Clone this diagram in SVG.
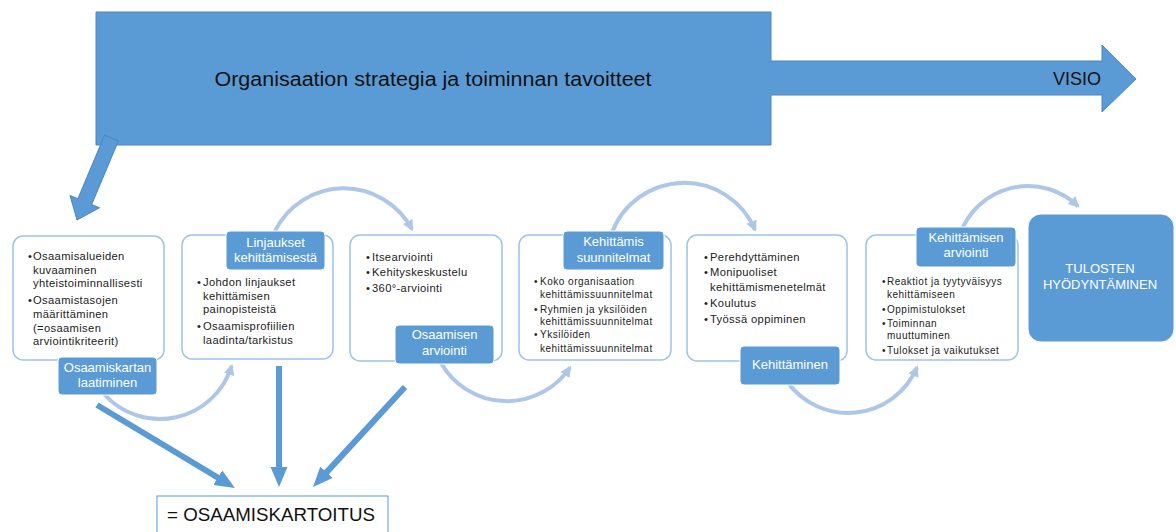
<svg xmlns="http://www.w3.org/2000/svg" width="1176" height="532" viewBox="0 0 1176 532">
<style>
.box{fill:#fff;stroke:#9dc3e6;stroke-width:1.5}
.lab{fill:#5b9bd5;stroke:#fff;stroke-width:1}
.lt{font-family:"Liberation Sans",Arial,sans-serif;font-size:13px;fill:#fff;text-anchor:middle}
.bt{font-family:"Liberation Sans",Arial,sans-serif;font-size:11.2px;fill:#222;letter-spacing:0.35px}
.st{font-family:"Liberation Sans",Arial,sans-serif;font-size:10px;fill:#222;letter-spacing:0.5px}
.arc{fill:none;stroke:#aec6e8;stroke-width:4}
.sa{fill:none;stroke:#5b9bd5;stroke-width:6}
</style>
<defs>
<marker id="ah" markerUnits="userSpaceOnUse" markerWidth="12" markerHeight="12" refX="9" refY="5.5" orient="auto">
<path d="M0,0 L11,5.5 L0,11 z" fill="#aec6e8"/>
</marker>
<marker id="bh" markerUnits="userSpaceOnUse" markerWidth="22" markerHeight="18" refX="10" refY="8.5" orient="auto">
<path d="M0,0 L20,8.5 L0,17 z" fill="#5b9bd5"/>
</marker>
</defs>
<g id="strategy">
<polygon points="96,12 771,12 771,61 1102,61 1102,45 1136,79 1102,112 1102,95 771,95 771,145 96,145" fill="#5b9bd5" stroke="#4a86c0" stroke-width="1"/>
<text x="433" y="86" font-family="Liberation Sans,Arial,sans-serif" font-size="20" fill="#111" text-anchor="middle" textLength="437" lengthAdjust="spacingAndGlyphs">Organisaation strategia ja toiminnan tavoitteet</text>
<text x="1101" y="85" font-family="Liberation Sans,Arial,sans-serif" font-size="18" fill="#111" text-anchor="end">VISIO</text>
</g>
<g id="connectors">
<path class="arc" d="M104,394 A75,75 0 0 0 231.7,365.9" marker-end="url(#ah)"/>
<path class="arc" d="M275,231 A77,77 0 0 1 412,229.4" marker-end="url(#ah)"/>
<path class="arc" d="M441,363 A76,76 0 0 0 570,367.5" marker-end="url(#ah)"/>
<path class="arc" d="M611.6,233.7 A77,77 0 0 1 755,230" marker-end="url(#ah)"/>
<path class="arc" d="M786.6,381 A75,75 0 0 0 917,367.4" marker-end="url(#ah)"/>
<path class="arc" d="M960.3,233.4 A72,72 0 0 1 1078,206.2" marker-end="url(#ah)"/>
<line class="sa" x1="97" y1="405" x2="226.4" y2="482.8" marker-end="url(#bh)"/>
<line class="sa" x1="279" y1="366" x2="279" y2="477" marker-end="url(#bh)"/>
<line class="sa" x1="405" y1="387" x2="319.8" y2="479.6" marker-end="url(#bh)"/>
<polygon points="104.6,135.1 118.4,140.9 91.7,204.5 99.5,207.8 77,220 70,195.4 77.9,198.7" fill="#5b9bd5" stroke="#4a86c0" stroke-width="1"/>
</g>
<g id="box1">
<rect class="box" x="13" y="236" width="151" height="124" rx="10"/>
<text class="bt"><tspan x="28" y="260">•</tspan><tspan x="33" y="260">Osaamisalueiden</tspan><tspan x="33" y="274">kuvaaminen</tspan><tspan x="33" y="287">yhteistoiminnallisesti</tspan><tspan x="28" y="304">•</tspan><tspan x="33" y="304">Osaamistasojen</tspan><tspan x="33" y="318">määrittäminen</tspan><tspan x="33" y="332">(=osaamisen</tspan><tspan x="33" y="345">arviointikriteerit)</tspan></text>
</g>
<g id="label1">
<rect class="lab" x="58" y="357" width="99" height="38" rx="4"/>
<text class="lt"><tspan x="107.5" y="372">Osaamiskartan</tspan><tspan x="107.5" y="387">laatiminen</tspan></text>
</g>
<g id="box2">
<rect class="box" x="182" y="235" width="151" height="124" rx="10"/>
<text class="bt"><tspan x="197" y="286">•</tspan><tspan x="203" y="286">Johdon linjaukset</tspan><tspan x="203" y="300">kehittämisen</tspan><tspan x="203" y="313">painopisteistä</tspan><tspan x="197" y="330">•</tspan><tspan x="203" y="330">Osaamisprofiilien</tspan><tspan x="203" y="344">laadinta/tarkistus</tspan></text>
</g>
<g id="label2">
<rect class="lab" x="226" y="231" width="99" height="39" rx="4"/>
<text class="lt"><tspan x="275.5" y="247">Linjaukset</tspan><tspan x="275.5" y="262">kehittämisestä</tspan></text>
</g>
<g id="box3">
<rect class="box" x="350" y="235" width="152" height="126" rx="10"/>
<text class="bt"><tspan x="366" y="261">•</tspan><tspan x="372" y="261">Itsearviointi</tspan><tspan x="366" y="276">•</tspan><tspan x="372" y="276">Kehityskeskustelu</tspan><tspan x="366" y="292">•</tspan><tspan x="372" y="292">360°-arviointi</tspan></text>
</g>
<g id="label3">
<rect class="lab" x="395" y="325" width="99" height="39" rx="4"/>
<text class="lt"><tspan x="444.5" y="339">Osaamisen</tspan><tspan x="444.5" y="355">arviointi</tspan></text>
</g>
<g id="box4">
<rect class="box" x="519" y="235" width="152" height="125" rx="10"/>
<text class="st"><tspan x="534" y="285">•</tspan><tspan x="540" y="285">Koko organisaation</tspan><tspan x="540" y="298">kehittämissuunnitelmat</tspan><tspan x="534" y="313">•</tspan><tspan x="540" y="313">Ryhmien ja yksilöiden</tspan><tspan x="540" y="325">kehittämissuunnitelmat</tspan><tspan x="534" y="338">•</tspan><tspan x="540" y="338">Yksilöiden</tspan><tspan x="540" y="352">kehittämissuunnitelmat</tspan></text>
</g>
<g id="label4">
<rect class="lab" x="563" y="231" width="101" height="39" rx="4"/>
<text class="lt"><tspan x="613.5" y="246">Kehittämis</tspan><tspan x="613.5" y="262">suunnitelmat</tspan></text>
</g>
<g id="box5">
<rect class="box" x="687" y="235" width="160" height="126" rx="10"/>
<text class="bt"><tspan x="704" y="261">•</tspan><tspan x="710" y="261">Perehdyttäminen</tspan><tspan x="704" y="276">•</tspan><tspan x="710" y="276">Monipuoliset</tspan><tspan x="710" y="291">kehittämismenetelmät</tspan><tspan x="704" y="307">•</tspan><tspan x="710" y="307">Koulutus</tspan><tspan x="704" y="323">•</tspan><tspan x="710" y="323">Työssä oppiminen</tspan></text>
</g>
<g id="label5">
<rect class="lab" x="740" y="346" width="100" height="39" rx="4"/>
<text class="lt" x="790" y="369">Kehittäminen</text>
</g>
<g id="box6">
<rect class="box" x="866" y="235" width="152" height="125" rx="10"/>
<text class="st"><tspan x="882" y="285">•</tspan><tspan x="887" y="285">Reaktiot ja tyytyväisyys</tspan><tspan x="887" y="298">kehittämiseen</tspan><tspan x="882" y="313">•</tspan><tspan x="887" y="313">Oppimistulokset</tspan><tspan x="882" y="327">•</tspan><tspan x="887" y="327">Toiminnan</tspan><tspan x="887" y="339">muuttuminen</tspan><tspan x="882" y="354">•</tspan><tspan x="887" y="354">Tulokset ja vaikutukset</tspan></text>
</g>
<g id="label6">
<rect class="lab" x="916" y="227" width="100" height="40" rx="4"/>
<text class="lt"><tspan x="966" y="242">Kehittämisen</tspan><tspan x="966" y="257">arviointi</tspan></text>
</g>
<g id="results">
<rect x="1028" y="214" width="146" height="128" rx="13" fill="#5b9bd5" stroke="#fff" stroke-width="1"/>
<text class="lt" font-size="12.5"><tspan x="1100" y="273">TULOSTEN</tspan><tspan x="1100" y="289">HYÖDYNTÄMINEN</tspan></text>
</g>
<g id="mapping">
<rect x="157" y="496" width="231" height="42" fill="#fff" stroke="#5b9bd5" stroke-width="1"/>
<text x="167" y="521" font-family="Liberation Sans,Arial,sans-serif" font-size="18" fill="#111" textLength="208" lengthAdjust="spacingAndGlyphs">= OSAAMISKARTOITUS</text>
</g>
</svg>
